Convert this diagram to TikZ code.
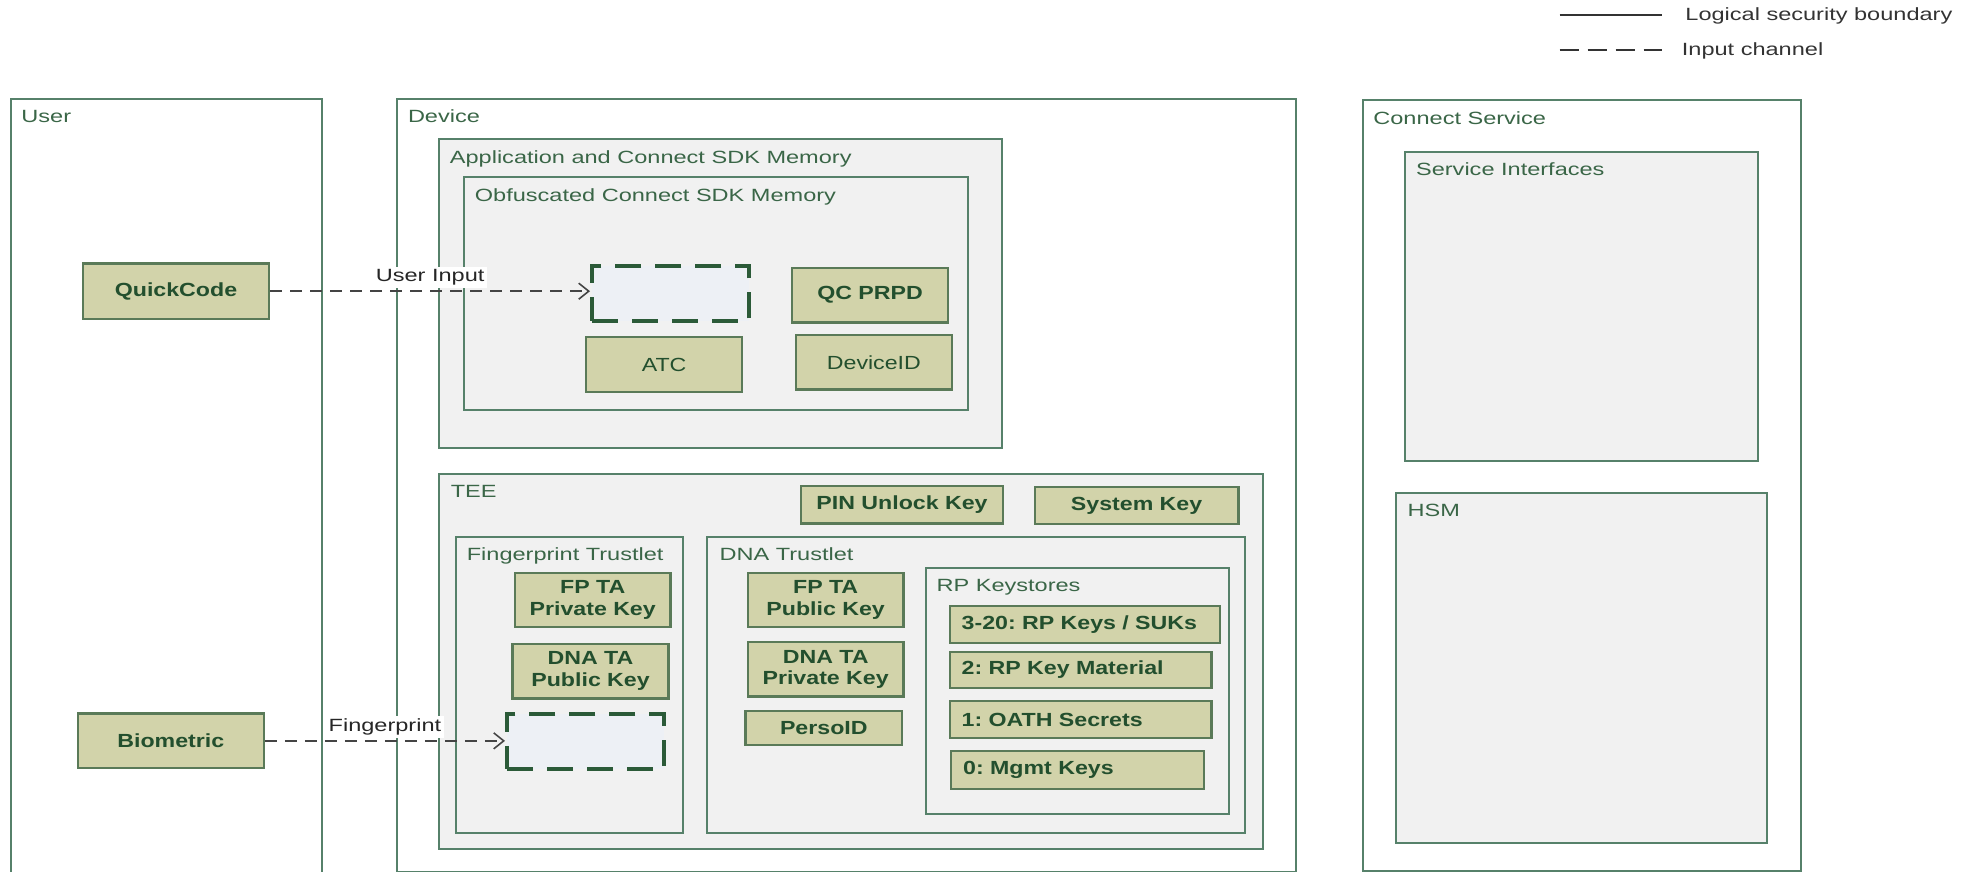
\documentclass[tikz,border=0pt]{standalone}
\usepackage{fontspec}
\setmainfont{Liberation Sans}[FakeStretch=1.33]
\newfontfamily\keyfont{Liberation Sans}[FakeStretch=1.22]
\usetikzlibrary{arrows.meta}
\definecolor{cbord}{HTML}{56816A}
\definecolor{cfill}{HTML}{F1F1F1}
\definecolor{clbl}{HTML}{3A6647}
\definecolor{kfill}{HTML}{D2D3AA}
\definecolor{kbord}{HTML}{5A7A58}
\definecolor{ktext}{HTML}{234F2E}
\definecolor{dbord}{HTML}{2B5A38}
\definecolor{dfill}{HTML}{EDF0F5}
\definecolor{lgtext}{HTML}{333333}
\definecolor{arrcol}{HTML}{444444}
\frenchspacing
\newcommand{\bx}[7]{%
 \pgfmathsetmacro{\bw}{(#5-#3)*0.5}%
 \pgfmathsetmacro{\bh}{(#6-#4)*0.5}%
 \pgfmathsetmacro{\btw}{(#5-#3)*0.5-12}%
 \node[#1, anchor=north west, inner xsep=6pt, inner ysep=0pt, minimum width=\bw pt, minimum height=\bh pt, text width=\btw pt] (#2) at (#3,#4) {#7};}
\begin{document}
\frenchspacing
\begin{tikzpicture}[x=0.5pt,y=-0.5pt,
  every node/.style={font=\fontsize{8.85}{10.8}\selectfont\frenchspacing},
  outerbox/.style={draw=cbord, line width=1pt, fill=white},
  innerbox/.style={draw=cbord, line width=1pt, fill=cfill},
  boxlabel/.style={text=clbl, anchor=base west, inner sep=0pt},
  keybox/.style={draw=kbord, line width=1.2pt, fill=kfill, text=ktext, align=center, font=\keyfont\fontsize{9.5}{10.8}\selectfont\bfseries\frenchspacing},
  keyplain/.style={draw=kbord, line width=1.2pt, fill=kfill, text=ktext, align=center, font=\keyfont\fontsize{9.5}{10.8}\selectfont\frenchspacing},
  keyleft/.style={keybox, align=left},
  inbox/.style={draw=dbord, line width=2pt, fill=dfill, dash pattern=on 13pt off 7pt},
  flow/.style={draw=arrcol, line width=0.8pt, dash pattern=on 6pt off 4pt, -{Straight Barb[length=5pt,width=8pt]}},
  flowlabel/.style={fill=white, text=black!85, inner sep=1.5pt},
  legline/.style={draw=lgtext, line width=0.7pt},
  legtext/.style={text=lgtext, anchor=base west, inner sep=0pt}]
\clip (0,0) rectangle (1967,872);
% legend
\coordinate (ls1) at (1559.5,15); \coordinate (ls2) at (1661.5,15);
\coordinate (ld1) at (1559.5,50); \coordinate (ld2) at (1661.5,50);
\draw[legline] (ls1) -- (ls2);
\draw[legline, dash pattern=on 9.5pt off 4.5pt] (ld1) -- (ld2);
\node[legtext] (lgsolid) at (1685,21) {Logical security boundary};
\node[legtext] (lgdash) at (1681.5,56) {Input channel};
% outer containers
\bx{outerbox}{user}{10}{98}{320.5}{900}{}
\bx{outerbox}{device}{395.5}{98}{1294.5}{870.5}{}
\bx{outerbox}{conn}{1361.7}{99.3}{1799.5}{869.5}{}
\node[boxlabel] (userlbl) at (21,123) {User};
\node[boxlabel] (devicelbl) at (407.6,122.7) {Device};
\node[boxlabel] (connlbl) at (1373,125) {Connect Service};
% device containers
\bx{innerbox}{app}{438.4}{138}{1001}{447.3}{}
\node[boxlabel] (applbl) at (449.5,163.3) {Application and Connect SDK Memory};
\bx{innerbox}{obf}{463.2}{176.5}{967.4}{409.3}{}
\node[boxlabel] (obflbl) at (474.5,201.7) {Obfuscated Connect SDK Memory};
\bx{innerbox}{tee}{438}{472.7}{1261.8}{847.7}{}
\node[boxlabel] (teelbl) at (450.4,497.3) {TEE};
\bx{innerbox}{fptl}{455.2}{536}{681.7}{831.7}{}
\node[boxlabel] (fptllbl) at (466.4,560) {Fingerprint Trustlet};
\bx{innerbox}{dnatl}{706.4}{536}{1244.1}{831.7}{}
\node[boxlabel] (dnatllbl) at (719.2,560) {DNA Trustlet};
\bx{innerbox}{rpks}{924.9}{567.3}{1228}{812.7}{}
\node[boxlabel] (rpkslbl) at (936.2,591.7) {RP Keystores};
% service containers
\bx{innerbox}{svc}{1404.2}{151}{1757}{460}{}
\node[boxlabel] (svclbl) at (1415.7,175.7) {Service Interfaces};
\bx{innerbox}{hsm}{1395.3}{491.7}{1765.7}{841.7}{}
\node[boxlabel] (hsmlbl) at (1407.3,516.7) {HSM};
% user items
\bx{keybox}{qc}{81.7}{262.3}{267.9}{317.7}{QuickCode}
\bx{keybox}{bio}{76.8}{712.3}{262.5}{767}{Biometric}
% app items
\bx{inbox}{uibox}{590}{264.3}{747}{319.3}{}
\bx{keybox}{qcprpd}{790.7}{266.7}{946.9}{321.3}{QC PRPD}
\bx{keyplain}{atc}{585}{336}{740.8}{390.7}{ATC}
\bx{keyplain}{devid}{794.6}{334}{950.8}{388.3}{DeviceID}
% TEE items
\bx{keybox}{pin}{799.6}{485}{1002}{522.3}{PIN Unlock Key}
\bx{keybox}{syskey}{1033.6}{486}{1237.2}{522.7}{System Key}
\bx{keybox}{fppriv}{513.6}{571.7}{669.4}{626}{FP TA\\Private Key}
\bx{keybox}{dnapub}{511.4}{642.7}{667.3}{697.3}{DNA TA\\Public Key}
\bx{inbox}{fpbox}{505}{712.3}{662}{766.7}{}
\bx{keybox}{fppub}{746.5}{571.7}{902.4}{626}{FP TA\\Public Key}
\bx{keybox}{dnapriv}{746.5}{641}{902.4}{695.3}{DNA TA\\Private Key}
\bx{keybox}{perso}{744.4}{710}{900.8}{744}{PersoID}
\bx{keyleft}{k320}{948.5}{605}{1219}{641.7}{3-20: RP Keys / SUKs}
\bx{keyleft}{k2}{948.5}{650.7}{1210.4}{687}{2: RP Key Material}
\bx{keyleft}{k1}{948.5}{700}{1210.4}{736.7}{1: OATH Secrets}
\bx{keyleft}{k0}{950}{750}{1202.9}{787.7}{0: Mgmt Keys}
% input channels
\draw[flow] (qc.east) -- (qc.east -| uibox.west) node[midway, above=1pt, flowlabel] (uilbl) {User Input};
\draw[flow] (bio.east) -- (bio.east -| fpbox.west) node[midway, above=1pt, flowlabel] (fplbl) {Fingerprint};
\end{tikzpicture}
\end{document}
